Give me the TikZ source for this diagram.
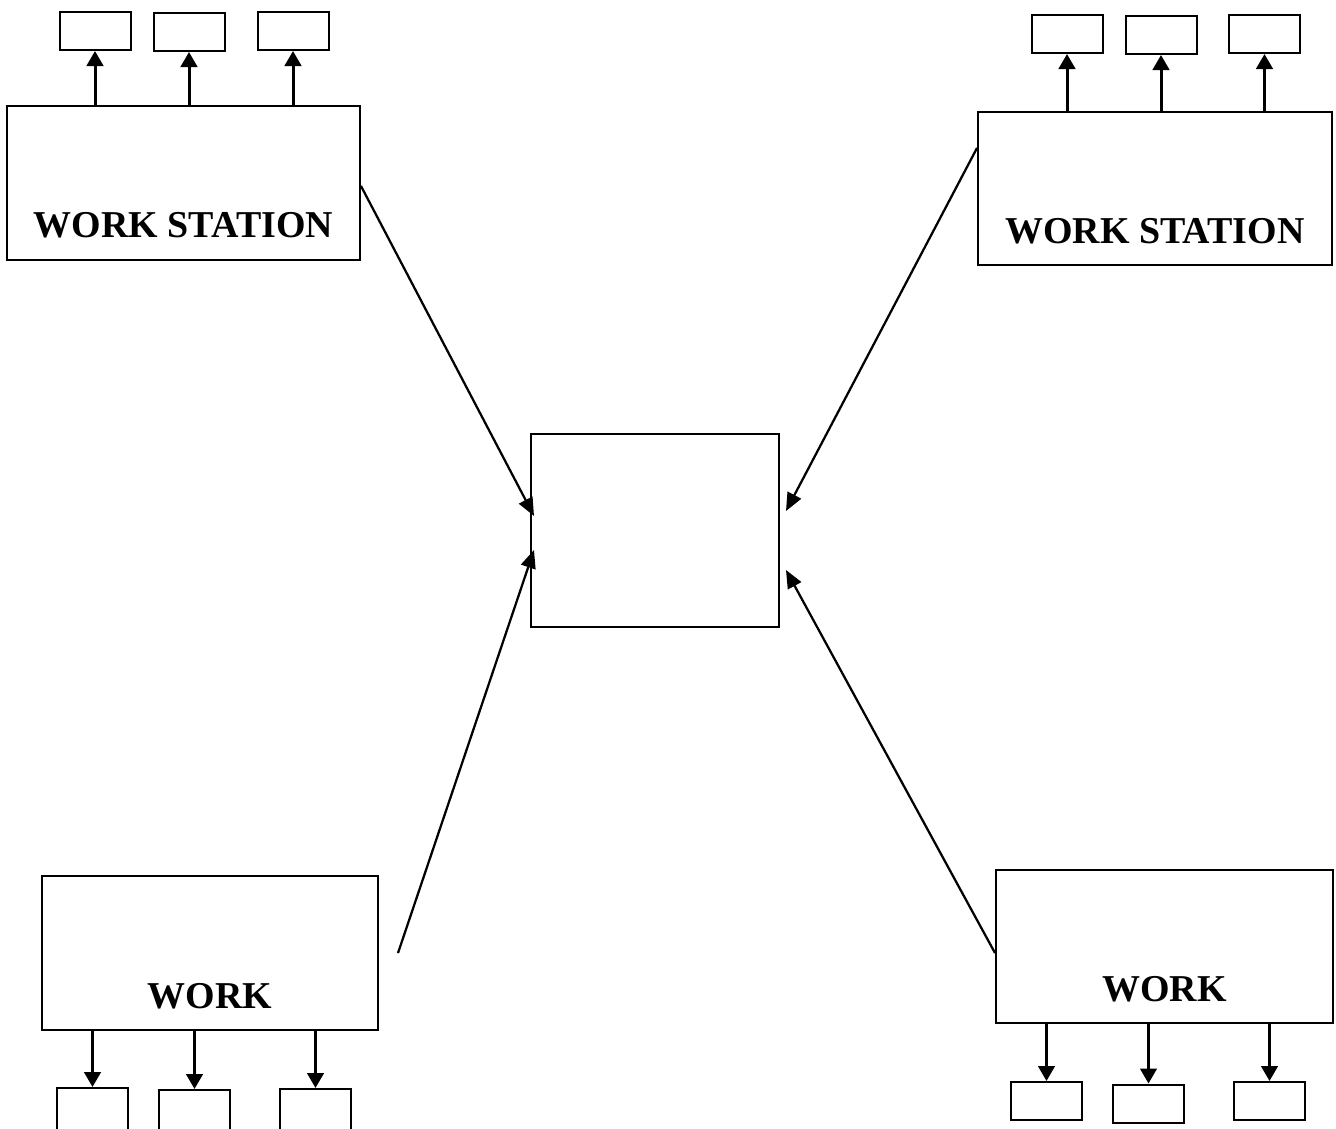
\documentclass[tikz,border=0pt]{standalone}
\usepackage{fontspec}
\setmainfont{Liberation Serif}
\usetikzlibrary{arrows.meta}
\begin{document}
\begin{tikzpicture}[station/.style={draw, line width=0.4mm, inner sep=0pt},
    port/.style={draw, line width=0.4mm, inner sep=0pt, minimum width=1.42cm, minimum height=0.76cm},
    tag/.style={font=\fontsize{21.6}{26}\selectfont\bfseries, inner sep=0pt},
    feed/.style={-{Triangle[length=3mm, width=3.3mm]}, line width=0.6mm},
    link/.style={-{Triangle[length=3.6mm, width=3mm]}, line width=0.45mm}]
      \useasboundingbox (0,0) rectangle (26.72,-22.56);
      \node[station, minimum width=4.96cm, minimum height=3.86cm] (hub) at (13.10,-10.61) {};
      \node[station, minimum width=7.06cm, minimum height=3.08cm] (wsA) at (3.67,-3.66) {};
      \node[station, minimum width=7.08cm, minimum height=3.06cm] (wsB) at (23.10,-3.77) {};
      \node[station, minimum width=6.72cm, minimum height=3.08cm] (wsC) at (4.20,-19.06) {};
      \node[station, minimum width=6.74cm, minimum height=3.06cm] (wsD) at (23.29,-18.93) {};
      \node[tag] (tA) at ([yshift=-0.85cm]wsA.center) {WORK STATION};
      \node[tag] (tB) at ([yshift=-0.85cm]wsB.center) {WORK STATION};
      \node[tag] (tC) at ([yshift=-0.86cm]wsC.center) {WORK};
      \node[tag] (tD) at ([yshift=-0.85cm]wsD.center) {WORK};
      \node[port] (pA1) at (1.90,-0.62) {};
      \node[port] (pA2) at (3.78,-0.64) {};
      \node[port] (pA3) at (5.86,-0.62) {};
      \node[port] (pB1) at (21.34,-0.68) {};
      \node[port] (pB2) at (23.22,-0.70) {};
      \node[port] (pB3) at (25.29,-0.68) {};
      \node[port, minimum height=0.9cm] (pC1) at (1.85,-22.21) {};
      \node[port, minimum height=0.9cm] (pC2) at (3.89,-22.25) {};
      \node[port, minimum height=0.9cm] (pC3) at (6.31,-22.23) {};
      \node[port] (pD1) at (20.93,-22.02) {};
      \node[port] (pD2) at (22.97,-22.07) {};
      \node[port] (pD3) at (25.39,-22.02) {};
      \draw[feed] (pA1.south |- wsA.north) -- (pA1.south);
      \draw[feed] (pA2.south |- wsA.north) -- (pA2.south);
      \draw[feed] (pA3.south |- wsA.north) -- (pA3.south);
      \draw[feed] (pB1.south |- wsB.north) -- (pB1.south);
      \draw[feed] (pB2.south |- wsB.north) -- (pB2.south);
      \draw[feed] (pB3.south |- wsB.north) -- (pB3.south);
      \draw[feed] (pC1.north |- wsC.south) -- (pC1.north);
      \draw[feed] (pC2.north |- wsC.south) -- (pC2.north);
      \draw[feed] (pC3.north |- wsC.south) -- (pC3.north);
      \draw[feed] (pD1.north |- wsD.south) -- (pD1.north);
      \draw[feed] (pD2.north |- wsD.south) -- (pD2.north);
      \draw[feed] (pD3.north |- wsD.south) -- (pD3.north);
      \draw[link] ([yshift=-0.06cm]wsA.east) -- ([shift={(0.08,0.29)}]hub.west);
      \draw[link] ([yshift=0.81cm]wsB.west) -- ([shift={(0.12,0.39)}]hub.east);
      \draw[link] ([xshift=0.38cm]wsC.east) -- ([shift={(0.08,-0.39)}]hub.west);
      \draw[link] ([yshift=-0.13cm]wsD.west) -- ([shift={(0.12,-0.79)}]hub.east);
    \end{tikzpicture}
\end{document}
